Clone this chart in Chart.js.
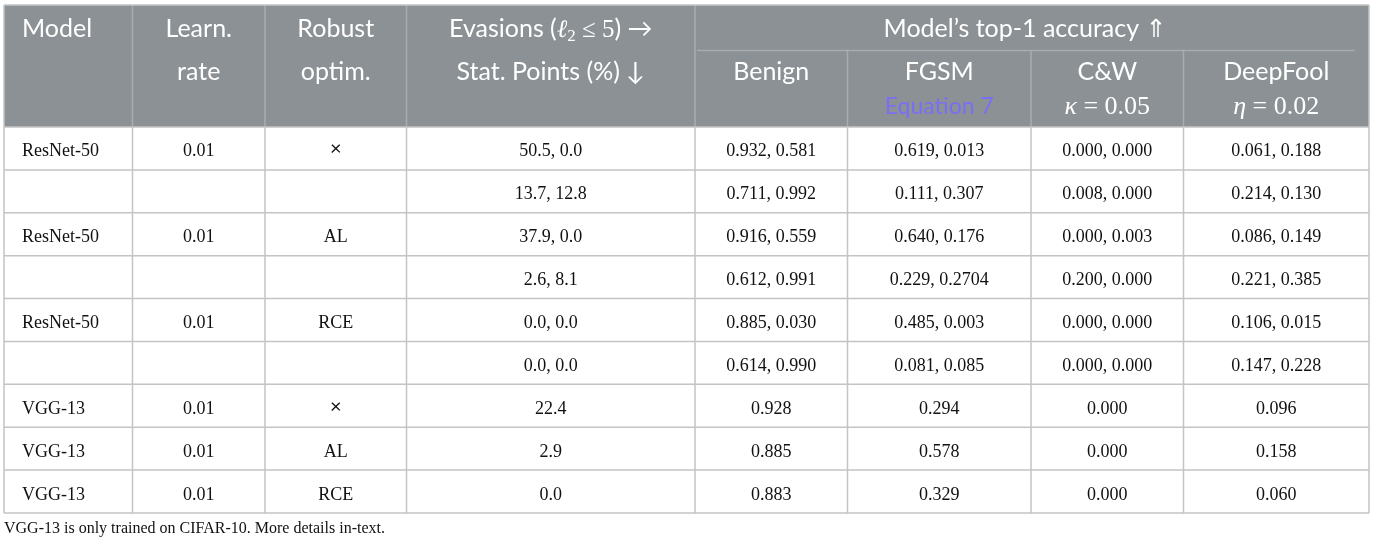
<!DOCTYPE html>
<html>
<head>
<meta charset="utf-8">
<script src="https://cdn.jsdelivr.net/npm/chart.js@4.4.1/dist/chart.umd.min.js"></script>
<style>
html,body{margin:0;padding:0;background:#ffffff;}
canvas{display:block;}
</style>
</head>
<body>
<canvas id="c" width="1375" height="546"></canvas>
<script>
// ---------------- DATA ----------------
const modelNames  = ['ResNet-50','','ResNet-50','','ResNet-50','','VGG-13','VGG-13','VGG-13'];
const learnRates  = ['0.01','','0.01','','0.01','','0.01','0.01','0.01'];
const robustOptim = ['\u00D7','','AL','','RCE','','\u00D7','AL','RCE'];
const evasions    = ['50.5, 0.0','13.7, 12.8','37.9, 0.0','2.6, 8.1','0.0, 0.0','0.0, 0.0','22.4','2.9','0.0'];
const benign      = ['0.932, 0.581','0.711, 0.992','0.916, 0.559','0.612, 0.991','0.885, 0.030','0.614, 0.990','0.928','0.885','0.883'];
const fgsm        = ['0.619, 0.013','0.111, 0.307','0.640, 0.176','0.229, 0.2704','0.485, 0.003','0.081, 0.085','0.294','0.578','0.329'];
const cw          = ['0.000, 0.000','0.008, 0.000','0.000, 0.003','0.200, 0.000','0.000, 0.000','0.000, 0.000','0.000','0.000','0.000'];
const deepfool    = ['0.061, 0.188','0.214, 0.130','0.086, 0.149','0.221, 0.385','0.106, 0.015','0.147, 0.228','0.096','0.158','0.060'];

const columnTitles = ['Model','Learn.','Robust','Evasions','Benign','FGSM','C&W','DeepFool'];
const columnSubtitles = ['','rate','optim.','Stat. Points (%) \u2193','','','',''];
const groupTitle = 'Model\u2019s top-1 accuracy \u21D1';
const footnote = 'VGG-13 is only trained on CIFAR-10. More details in-text.';

// ---------------- LAYOUT / STYLE ----------------
const colEdges = [0,128.5,261,402.5,691,843.5,1027,1179.5,1365]; // x-scale units
const TABLE_W = 1365, HEADER_H = 122, TABLE_H = 508;
const ROW_H = (TABLE_H - HEADER_H) / modelNames.length;
const GROUP_LINE_Y = 45.5;
const SANS = "Lato, 'DejaVu Sans', sans-serif";
const SERIF = "'Liberation Serif', 'DejaVu Serif', serif";
const HEADER_BG = '#8b9194';
const HEADER_LINE = '#a9adb0';
const BODY_LINE = '#c4c4c4';
const PURPLE = '#7b6ef6';

const columns = [modelNames, learnRates, robustOptim, evasions, benign, fgsm, cw, deepfool];

function richWidth(ctx, segs){
  let w = 0;
  segs.forEach(s => { ctx.font = s.font; w += ctx.measureText(s.text).width; });
  return w;
}
function drawRich(ctx, segs, cx, baseline, color){
  const total = richWidth(ctx, segs);
  let x = cx - total/2;
  ctx.textAlign = 'left';
  ctx.textBaseline = 'alphabetic';
  segs.forEach(s => {
    ctx.font = s.font;
    ctx.fillStyle = s.color || color;
    ctx.fillText(s.text, x, baseline + (s.dy || 0));
    x += ctx.measureText(s.text).width;
  });
}

const tablePlugin = {
  id: 'tablePlugin',
  afterDraw(chart){
    const ctx = chart.ctx;
    const xs = chart.scales.x, ys = chart.scales.y;
    const X = v => xs.getPixelForValue(v);
    const Y = v => ys.getPixelForValue(v);
    const colCenter = i => X((colEdges[i] + colEdges[i+1]) / 2);
    ctx.save();

    // header background
    ctx.fillStyle = HEADER_BG;
    ctx.fillRect(X(0), Y(0), X(TABLE_W) - X(0), Y(HEADER_H) - Y(0));

    ctx.lineWidth = 1.5;
    // header dividers
    ctx.strokeStyle = HEADER_LINE;
    ctx.beginPath();
    for (let i = 1; i <= 4; i++){ ctx.moveTo(X(colEdges[i]), Y(0)); ctx.lineTo(X(colEdges[i]), Y(HEADER_H)); }
    for (let i = 5; i <= 7; i++){ ctx.moveTo(X(colEdges[i]), Y(GROUP_LINE_Y)); ctx.lineTo(X(colEdges[i]), Y(HEADER_H)); }
    ctx.moveTo(X(colEdges[4] + 2), Y(GROUP_LINE_Y)); ctx.lineTo(X(TABLE_W - 14), Y(GROUP_LINE_Y));
    ctx.stroke();

    // body grid
    ctx.strokeStyle = BODY_LINE;
    ctx.beginPath();
    for (let r = 0; r <= modelNames.length; r++){
      const y = Y(HEADER_H + r*ROW_H);
      ctx.moveTo(X(0), y); ctx.lineTo(X(TABLE_W), y);
    }
    for (let i = 0; i < colEdges.length; i++){
      const x = X(colEdges[i]);
      ctx.moveTo(x, (i===0||i===colEdges.length-1) ? Y(0) : Y(HEADER_H)); ctx.lineTo(x, Y(TABLE_H));
    }
    ctx.moveTo(X(0), Y(0)); ctx.lineTo(X(TABLE_W), Y(0));
    ctx.stroke();

    // header text
    const hf = '25px ' + SANS;
    const b1 = Y(32), b2 = Y(75), b3 = Y(106);
    ctx.fillStyle = '#ffffff';
    ctx.font = hf;
    ctx.textBaseline = 'alphabetic';
    ctx.textAlign = 'left';
    ctx.fillText(columnTitles[0], X(18), b1);
    ctx.textAlign = 'center';
    ctx.fillText(columnTitles[1], colCenter(1), b1);
    ctx.fillText(columnSubtitles[1], colCenter(1), b2);
    ctx.fillText(columnTitles[2], colCenter(2), b1);
    ctx.fillText(columnSubtitles[2], colCenter(2), b2);
    drawRich(ctx, [
      {text: columnTitles[3] + ' (', font: hf},
      {text: '\u2113', font: 'italic 25px ' + SERIF},
      {text: '2', font: '17px ' + SERIF, dy: 4},
      {text: ' \u2264 ', font: '25px ' + SERIF},
      {text: '5', font: '25px ' + SERIF},
      {text: ') \u2192', font: hf}
    ], colCenter(3), b1, '#ffffff');
    ctx.textAlign = 'center';
    ctx.font = hf;
    ctx.fillStyle = '#ffffff';
    ctx.fillText(columnSubtitles[3], colCenter(3), b2);
    ctx.fillText(groupTitle, X((colEdges[4] + TABLE_W - 14) / 2), b1);
    for (let i = 4; i <= 7; i++) ctx.fillText(columnTitles[i], colCenter(i), b2);
    ctx.fillStyle = PURPLE;
    ctx.font = '23px ' + SANS;
    ctx.fillText('Equation 7', colCenter(5), b3 + 3);
    drawRich(ctx, [
      {text: '\u03BA', font: 'italic 26px ' + SERIF},
      {text: ' = 0.05', font: '26px ' + SERIF}
    ], colCenter(6), b3 + 3, '#ffffff');
    drawRich(ctx, [
      {text: '\u03B7', font: 'italic 26px ' + SERIF},
      {text: ' = 0.02', font: '26px ' + SERIF}
    ], colCenter(7), b3 + 3, '#ffffff');

    // body text
    ctx.fillStyle = '#111111';
    ctx.textBaseline = 'alphabetic';
    columns.forEach((col, ci) => {
      col.forEach((txt, r) => {
        if (!txt) return;
        const y = Y(HEADER_H + (r + 0.5)*ROW_H) + 8;
        if (txt === '\u00D7'){
          ctx.font = '20px ' + SANS;
          ctx.textAlign = 'center';
          ctx.fillText(txt, colCenter(ci), y - 1);
          return;
        }
        ctx.font = '18px ' + SERIF;
        if (ci === 0){ ctx.textAlign = 'left'; ctx.fillText(txt, X(18), y); }
        else { ctx.textAlign = 'center'; ctx.fillText(txt, colCenter(ci), y); }
      });
    });

    // footnote
    ctx.font = '16px ' + SERIF;
    ctx.textAlign = 'left';
    ctx.fillStyle = '#111111';
    ctx.fillText(footnote, X(0), Y(TABLE_H) + 20);
    ctx.restore();
  }
};

new Chart(document.getElementById('c').getContext('2d'), {
  type: 'scatter',
  data: { datasets: [] },
  options: {
    responsive: false,
    animation: false,
    devicePixelRatio: 1,
    layout: { padding: { left: 4, top: 5, right: 6, bottom: 33 } },
    scales: {
      x: { type: 'linear', min: 0, max: TABLE_W, display: false },
      y: { type: 'linear', min: 0, max: TABLE_H, reverse: true, display: false }
    },
    plugins: { legend: { display: false }, tooltip: { enabled: false } }
  },
  plugins: [tablePlugin]
});
</script>
</body>
</html>
